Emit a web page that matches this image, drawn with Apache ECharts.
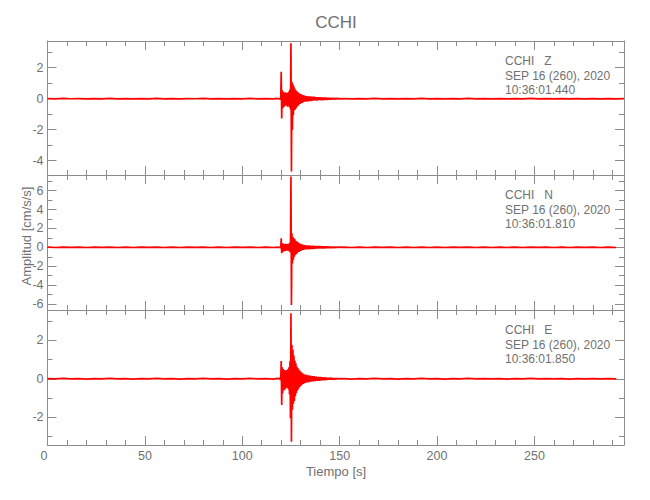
<!DOCTYPE html>
<html><head><meta charset="utf-8">
<script src="https://cdn.jsdelivr.net/npm/echarts@6/dist/echarts.min.js"></script>
<style>html,body{margin:0;padding:0;background:#fff}#c{width:650px;height:500px}</style>
</head><body><div id="c"></div>
<script>
// ---- tick labels / axis ranges ----
const xMax = 296;
const xMajorTicks = [0, 50, 100, 150, 200, 250];
const xMinorTicks = [0,10,20,30,40,50,60,70,80,90,100,110,120,130,140,150,160,170,180,190,200,210,220,230,240,250,260,270,280,290];
const zRange = [-4.92, 3.72];
const nRange = [-6.63, 7.65];
const eRange = [-3.43, 3.56];
const zMajor = [-4, -2, 0, 2];
const zMinor = [-4, -3, -2, -1, 0, 1, 2, 3];
const nMajor = [-6, -4, -2, 0, 2, 4, 6];
const nMinor = [-6, -5, -4, -3, -2, -1, 0, 1, 2, 3, 4, 5, 6, 7];
const eMajor = [-2, 0, 2];
const eMinor = [-3, -2, -1, 0, 1, 2, 3];

// ---- annotation texts ----
const zLabel = ['CCHI   Z', 'SEP 16 (260), 2020', '10:36:01.440'];
const nLabel = ['CCHI   N', 'SEP 16 (260), 2020', '10:36:01.810'];
const eLabel = ['CCHI   E', 'SEP 16 (260), 2020', '10:36:01.850'];

// ---- sampling of the traces (seconds) ----
const preStart = 0, preStep = 4;        // quiet part before event
const pStart = 118, pStep = 0.25;       // P and S arrivals
const codaStart = 132, codaStep = 0.5;  // coda decay
const postStart = 152, postStep = 4;    // quiet part after event

// ---- Z component (cm/s/s) ----
const zPre = [0.01,-0.01,0.015,-0.005,0.01,-0.015,0.005,-0.01,0.015,-0.01,0.01,-0.015,0.01,-0.01,0.015,-0.01,0.01,-0.015,0.01,-0.005,0.015,-0.01,0.01,-0.015,0.01,-0.01,0.015,-0.01,0.01,-0.015];
const zP = [0.02,-0.03,0.03,-0.04,0.05,-0.04,0.06,-0.08,
  1.74,-1.27,0.55,-0.62,0.45,-0.55,0.38,-0.48,
  0.42,-0.40,0.35,-0.45,0.40,-0.52,0.36,-0.42,
  0.48,-0.55,0.60,-0.70,
  3.57,-4.70,1.10,-2.00,0.95,-1.05,0.80,-0.75,
  0.65,-0.70,0.55,-0.60,0.50,-0.48,0.42,-0.45,
  0.38,-0.36,0.32,-0.34,0.30,-0.28,0.26,-0.27,
  0.24,-0.22,0.21,-0.20];
const zCoda = [0.19,-0.18,0.17,-0.18,0.15,-0.16,0.14,-0.15,0.13,-0.12,
  0.12,-0.11,0.10,-0.11,0.10,-0.09,0.09,-0.10,0.08,-0.09,
  0.08,-0.08,0.07,-0.07,0.06,-0.06,0.05,-0.05,0.05,-0.04,
  0.04,-0.04,0.03,-0.03,0.03,-0.02,0.02,-0.02,0.02,-0.015];
const zPost = [0.01,-0.015,0.01,-0.01,0.015,-0.01,0.01,-0.015,0.01,-0.01,0.015,-0.01,0.01,-0.015,0.01,-0.01,0.015,-0.01,0.01,-0.01,0.01,-0.015,0.01,-0.01,0.015,-0.01,0.01,-0.01,0.01,-0.015,0.01,-0.01,0.01,-0.01,0.01,-0.01,0.01];

// ---- N component ----
const nPre = [0.015,-0.02,0.02,-0.015,0.02,-0.02,0.015,-0.015,0.02,-0.02,0.015,-0.02,0.02,-0.015,0.025,-0.02,0.015,-0.02,0.02,-0.015,0.02,-0.02,0.015,-0.02,0.02,-0.015,0.02,-0.02,0.015,-0.02];
const nP = [0.03,-0.04,0.04,-0.05,0.06,-0.05,0.07,-0.09,
  0.95,-0.63,0.45,-0.50,0.38,-0.42,0.35,-0.40,
  0.32,-0.38,0.36,-0.33,0.30,-0.36,0.38,-0.35,
  0.40,-0.45,0.50,-0.55,
  7.50,-6.10,1.50,-1.70,1.10,-1.30,0.95,-1.00,
  0.85,-0.80,0.70,-0.72,0.60,-0.62,0.55,-0.50,
  0.45,-0.48,0.40,-0.38,0.35,-0.36,0.32,-0.30,
  0.28,-0.27,0.25,-0.24];
const nCoda = [0.23,-0.22,0.21,-0.22,0.19,-0.20,0.18,-0.19,0.16,-0.17,
  0.15,-0.15,0.14,-0.13,0.13,-0.12,0.12,-0.12,0.11,-0.11,
  0.10,-0.10,0.09,-0.09,0.08,-0.08,0.07,-0.07,0.06,-0.06,
  0.05,-0.05,0.04,-0.04,0.04,-0.03,0.03,-0.03,0.03,-0.02];
const nPost = [0.02,-0.02,0.015,-0.02,0.02,-0.015,0.02,-0.02,0.015,-0.02,0.02,-0.02,0.015,-0.02,0.02,-0.015,0.02,-0.02,0.015,-0.02,0.02,-0.02,0.015,-0.02,0.02,-0.015,0.02,-0.02,0.015,-0.02,0.02,-0.015,0.02,-0.02,0.015,-0.02];

// ---- E component ----
const ePre = [0.01,-0.01,0.015,-0.01,0.01,-0.015,0.01,-0.01,0.015,-0.01,0.01,-0.015,0.01,-0.01,0.015,-0.01,0.01,-0.015,0.01,-0.01,0.015,-0.01,0.01,-0.015,0.01,-0.01,0.015,-0.01,0.01,-0.015];
const eP = [0.02,-0.03,0.04,-0.03,0.05,-0.04,0.05,-0.07,
  0.92,-1.36,0.60,-0.75,0.50,-0.55,0.45,-0.60,
  0.40,-0.50,0.45,-0.42,0.38,-0.48,0.50,-0.55,
  0.60,-0.80,0.90,-2.04,
  3.39,-3.26,1.75,-1.60,1.50,-1.30,1.20,-1.15,
  0.95,-0.90,0.80,-0.75,0.65,-0.62,0.55,-0.55,
  0.48,-0.45,0.42,-0.40,0.36,-0.35,0.32,-0.30,
  0.28,-0.27,0.25,-0.24];
const eCoda = [0.22,-0.21,0.20,-0.19,0.18,-0.18,0.16,-0.15,0.14,-0.14,
  0.13,-0.12,0.11,-0.11,0.10,-0.10,0.09,-0.09,0.08,-0.08,
  0.07,-0.07,0.06,-0.06,0.05,-0.05,0.05,-0.04,0.04,-0.04,
  0.03,-0.03,0.03,-0.02,0.02,-0.02,0.02,-0.015,0.015,-0.01];
const ePost = [0.01,-0.015,0.01,-0.01,0.015,-0.01,0.01,-0.015,0.01,-0.01,0.015,-0.01,0.01,-0.015,0.01,-0.01,0.015,-0.01,0.01,-0.01,0.01,-0.015,0.01,-0.01,0.015,-0.01,0.01,-0.01,0.01,-0.015,0.01,-0.01,0.01,-0.01,0.01,-0.01];

// ---- build traces ----
function seg(start, step, vals) { return vals.map((v, i) => [start + i * step, v]); }
function trace(pre, p, coda, post) {
  return [].concat(seg(preStart, preStep, pre), seg(pStart, pStep, p),
                   seg(codaStart, codaStep, coda), seg(postStart, postStep, post));
}
const traces = [trace(zPre, zP, zCoda, zPost), trace(nPre, nP, nCoda, nPost), trace(ePre, eP, eCoda, ePost)];
const ranges = [zRange, nRange, eRange];
const majors = [zMajor, nMajor, eMajor];
const minors = [zMinor, nMinor, eMinor];
const labels = [zLabel, nLabel, eLabel];

const FONT = '"Liberation Sans", Arial, sans-serif';
const TXT = '#707070';
const AX = '#8c8c8c';
const gridTops = [41, 175, 310];
const gridH = [134, 135, 135];
const L = 47.5, R = 26;

const grids = [], xAxes = [], yAxes = [], series = [], graphics = [];
for (let g = 0; g < 3; g++) {
  grids.push({ left: L, right: R, top: gridTops[g], height: gridH[g], containLabel: false });
  ['bottom', 'top'].forEach(pos => {
    xAxes.push({ gridIndex: g, type: 'value', min: 0, max: xMax, position: pos,
      axisLine: { show: true, onZero: false, lineStyle: { color: AX, width: 1 } },
      axisTick: { show: true, inside: true, length: 9, customValues: xMajorTicks, lineStyle: { color: AX } },
      axisLabel: { show: (g === 2 && pos === 'bottom'), customValues: xMajorTicks, margin: 4,
        alignMinLabel: 'right', color: TXT, fontFamily: FONT, fontSize: 12.5 },
      splitLine: { show: false } });
    xAxes.push({ gridIndex: g, type: 'value', min: 0, max: xMax, position: pos,
      axisLine: { show: false, onZero: false },
      axisTick: { show: true, inside: true, length: 5, customValues: xMinorTicks, lineStyle: { color: AX } },
      axisLabel: { show: false }, splitLine: { show: false } });
  });
  ['left', 'right'].forEach(pos => {
    yAxes.push({ gridIndex: g, type: 'value', min: ranges[g][0], max: ranges[g][1], position: pos,
      axisLine: { show: true, onZero: false, lineStyle: { color: AX, width: 1 } },
      axisTick: { show: true, inside: true, length: 9, customValues: majors[g], lineStyle: { color: AX } },
      axisLabel: { show: pos === 'left', customValues: majors[g], margin: 4,
        color: TXT, fontFamily: FONT, fontSize: 12.5 },
      splitLine: { show: false } });
    yAxes.push({ gridIndex: g, type: 'value', min: ranges[g][0], max: ranges[g][1], position: pos,
      axisLine: { show: false, onZero: false },
      axisTick: { show: true, inside: true, length: 5, customValues: minors[g], lineStyle: { color: AX } },
      axisLabel: { show: false }, splitLine: { show: false } });
  });
  series.push({ type: 'line', xAxisIndex: 4 * g, yAxisIndex: 4 * g, data: traces[g],
    showSymbol: false, symbol: 'none', clip: true, animation: false,
    lineStyle: { color: '#ff0000', width: 1.7 } });
  labels[g].forEach((t, k) => {
    graphics.push({ type: 'text', left: 505, top: gridTops[g] + 14 + k * 14.5,
      style: { text: t, fill: TXT, font: '12px ' + FONT } });
  });
}
graphics.push({ type: 'text', x: 336, y: 22, style: { text: 'CCHI', fill: TXT, font: '17px ' + FONT,
  align: 'center', verticalAlign: 'middle', textAlign: 'center', textVerticalAlign: 'middle' } });
graphics.push({ type: 'text', x: 336, y: 471, style: { text: 'Tiempo [s]', fill: TXT, font: '13px ' + FONT,
  align: 'center', verticalAlign: 'middle', textAlign: 'center', textVerticalAlign: 'middle' } });
graphics.push({ type: 'text', x: 26, y: 236, rotation: Math.PI / 2, style: { text: 'Amplitud [cm/s/s]', fill: TXT,
  font: '13px ' + FONT, align: 'center', verticalAlign: 'middle', textAlign: 'center', textVerticalAlign: 'middle' } });

const chart = echarts.init(document.getElementById('c'), null, { renderer: 'svg', width: 650, height: 500 });
chart.setOption({
  animation: false,
  backgroundColor: '#ffffff',
  grid: grids, xAxis: xAxes, yAxis: yAxes, series: series, graphic: graphics
});
</script></body></html>
